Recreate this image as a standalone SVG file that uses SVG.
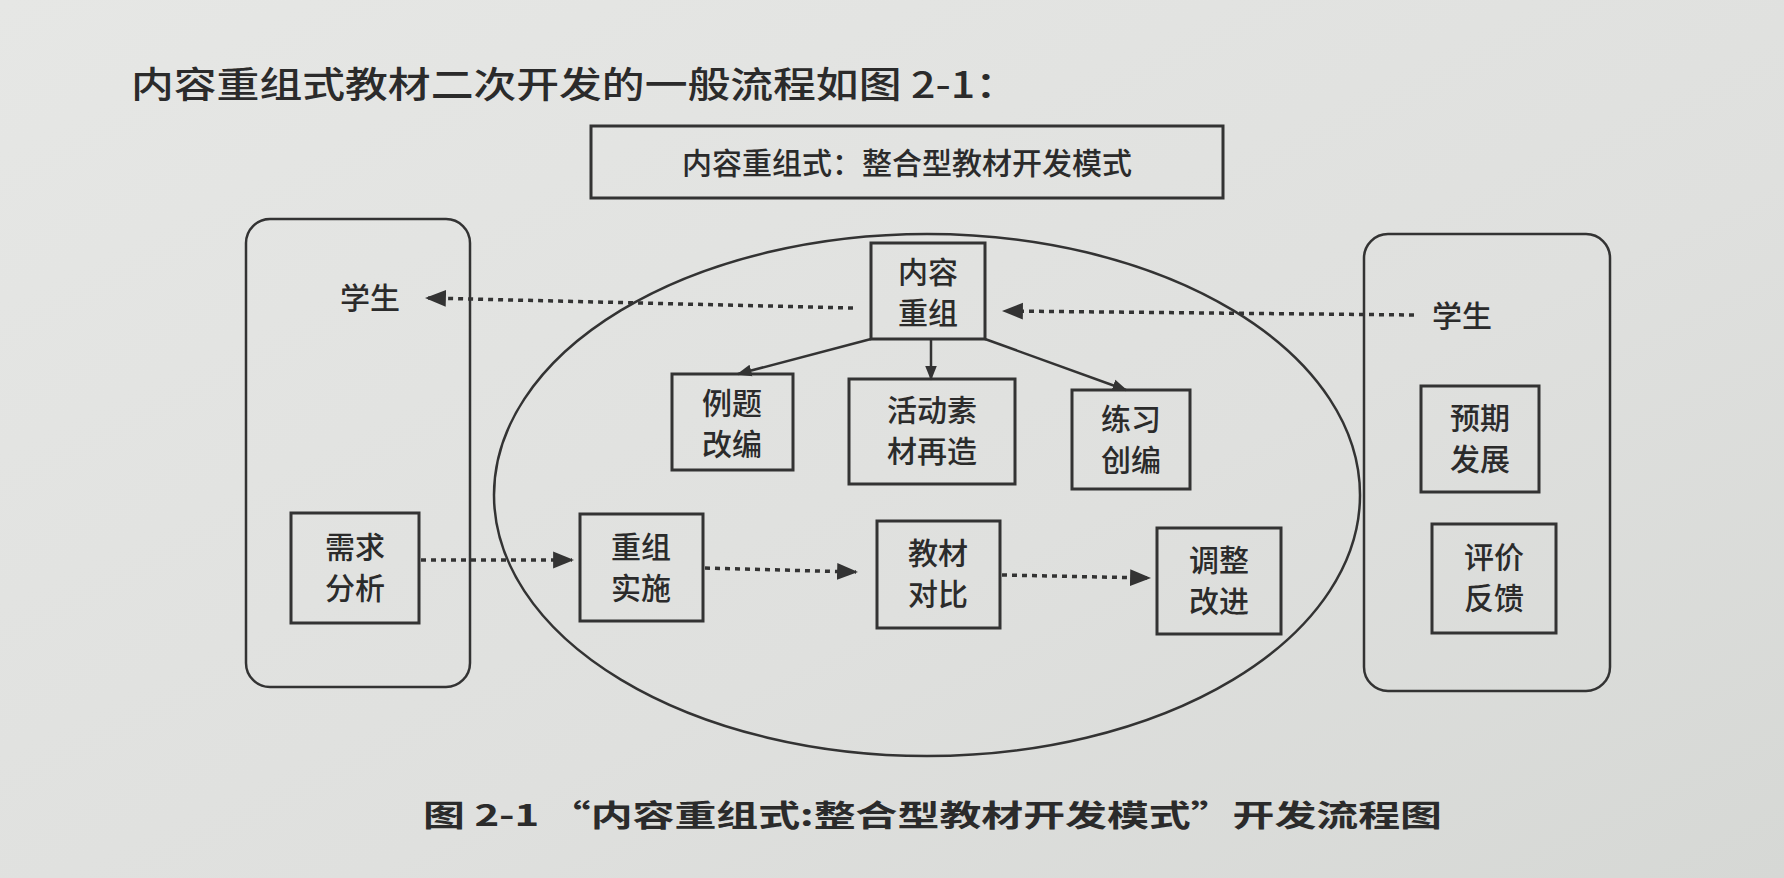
<svg xmlns="http://www.w3.org/2000/svg" width="1784" height="878" viewBox="0 0 1784 878">
<defs>
<linearGradient id="bg" x1="0" y1="0" x2="1" y2="1">
<stop offset="0" stop-color="#e6e7e5"/>
<stop offset="0.6" stop-color="#dfe0de"/>
<stop offset="1" stop-color="#d6d8d5"/>
</linearGradient>
<marker id="ahs" viewBox="0 0 10 10" refX="9" refY="5" markerWidth="6" markerHeight="6" orient="auto">
<path d="M0,1 L10,5 L0,9 Z" fill="#333"/>
</marker>
</defs>
<style>
text{font-family:"Noto Sans CJK SC","Noto Sans",sans-serif;fill:#2b2b2b;}
.box{fill:none;stroke:#333;stroke-width:3;}
.rbox{fill:none;stroke:#333;stroke-width:2.5;}
.lbl{font-size:30px;text-anchor:middle;font-weight:500;}
.solid{stroke:#333;stroke-width:2.5;fill:none;marker-end:url(#ahs);}
.dot{stroke:#333;stroke-width:3.5;fill:none;stroke-dasharray:5 5;marker-end:url(#ahs);}
</style>
<rect width="1784" height="878" fill="url(#bg)"/>
<text x="131" y="98" font-size="36" font-weight="500" textLength="887" lengthAdjust="spacingAndGlyphs">内容重组式教材二次开发的一般流程如图 2-1：</text>
<g id="title">
<rect class="box" x="591" y="126" width="632" height="72"/>
<text class="lbl" x="907" y="174" font-size="31">内容重组式：整合型教材开发模式</text>
</g>
<g id="left-panel">
<rect class="rbox" x="246" y="219" width="224" height="468" rx="24"/>
<text class="lbl" x="370" y="309">学生</text>
</g>
<g id="right-panel">
<rect class="rbox" x="1364" y="234" width="246" height="457" rx="24"/>
<text class="lbl" x="1462" y="327">学生</text>
</g>
<g id="ellipse">
<ellipse cx="927" cy="495" rx="433" ry="261" fill="none" stroke="#333" stroke-width="2.5"/>
</g>
<g id="n-nrcz">
<rect class="box" x="871" y="243" width="114" height="96"/>
<text class="lbl" x="928" y="283"><tspan x="928">内容</tspan><tspan x="928" dy="41">重组</tspan></text>
</g>
<g id="n-ltgb">
<rect class="box" x="672" y="374" width="121" height="96"/>
<text class="lbl" x="732" y="414"><tspan x="732">例题</tspan><tspan x="732" dy="41">改编</tspan></text>
</g>
<g id="n-hdsc">
<rect class="box" x="849" y="379" width="166" height="105"/>
<text class="lbl" x="932" y="421"><tspan x="932">活动素</tspan><tspan x="932" dy="41">材再造</tspan></text>
</g>
<g id="n-lxcb">
<rect class="box" x="1072" y="390" width="118" height="99"/>
<text class="lbl" x="1131" y="430"><tspan x="1131">练习</tspan><tspan x="1131" dy="41">创编</tspan></text>
</g>
<g id="n-xqfx">
<rect class="box" x="291" y="513" width="128" height="110"/>
<text class="lbl" x="355" y="558"><tspan x="355">需求</tspan><tspan x="355" dy="41">分析</tspan></text>
</g>
<g id="n-czss">
<rect class="box" x="580" y="514" width="123" height="107"/>
<text class="lbl" x="641" y="558"><tspan x="641">重组</tspan><tspan x="641" dy="41">实施</tspan></text>
</g>
<g id="n-jcdb">
<rect class="box" x="877" y="521" width="123" height="107"/>
<text class="lbl" x="938" y="564"><tspan x="938">教材</tspan><tspan x="938" dy="41">对比</tspan></text>
</g>
<g id="n-tzgj">
<rect class="box" x="1157" y="528" width="124" height="106"/>
<text class="lbl" x="1219" y="571"><tspan x="1219">调整</tspan><tspan x="1219" dy="41">改进</tspan></text>
</g>
<g id="n-yqfz">
<rect class="box" x="1421" y="386" width="118" height="106"/>
<text class="lbl" x="1480" y="429"><tspan x="1480">预期</tspan><tspan x="1480" dy="41">发展</tspan></text>
</g>
<g id="n-pjfk">
<rect class="box" x="1432" y="524" width="124" height="109"/>
<text class="lbl" x="1494" y="568"><tspan x="1494">评价</tspan><tspan x="1494" dy="41">反馈</tspan></text>
</g>
<g id="connectors">
<line class="dot" x1="853" y1="308" x2="427" y2="298"/>
<line class="dot" x1="1414" y1="315" x2="1004" y2="311"/>
<line class="solid" x1="871" y1="339" x2="738" y2="374"/>
<line class="solid" x1="931" y1="339" x2="931" y2="379"/>
<line class="solid" x1="985" y1="339" x2="1126" y2="390"/>
<line class="dot" x1="421" y1="560" x2="572" y2="560"/>
<line class="dot" x1="705" y1="568" x2="856" y2="572"/>
<line class="dot" x1="1002" y1="575" x2="1149" y2="578"/>
</g>
<text x="423" y="826" font-size="30" font-weight="bold" textLength="1019" lengthAdjust="spacingAndGlyphs">图 2-1  “内容重组式:整合型教材开发模式”开发流程图</text>
</svg>
